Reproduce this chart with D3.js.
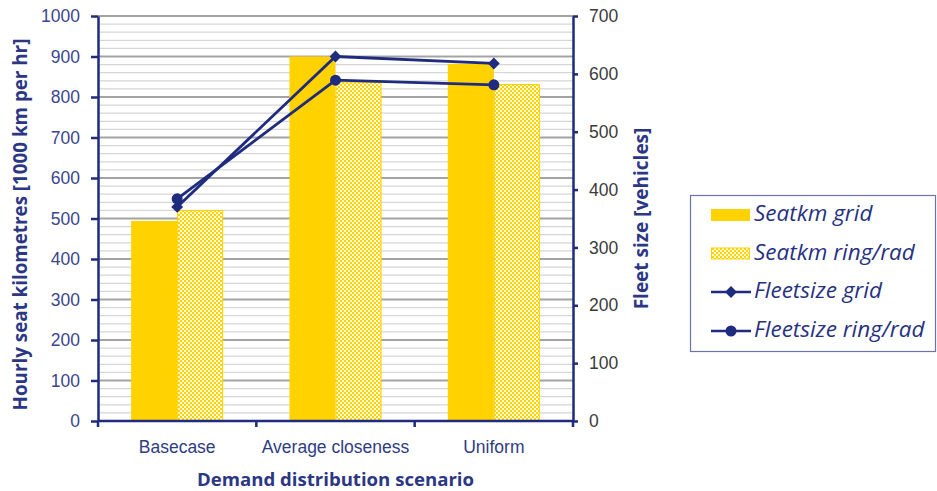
<!DOCTYPE html>
<html>
<head>
<meta charset="utf-8">
<script src="https://cdn.jsdelivr.net/npm/d3@7"></script>
<style>
  html, body { margin: 0; padding: 0; background: #fff; }
  svg { display: block; font-family: "Open Sans", Lato, sans-serif; }
</style>
</head>
<body>
<svg id="chart" width="937" height="491"></svg>
<script>
// Scenario categories and series values
const categories = ["Basecase", "Average closeness", "Uniform"];
const seatkmGrid = [494, 900, 882];
const seatkmRing = [521, 838, 832];
const fleetGrid = [370, 630, 618];
const fleetRing = [384, 589, 581];
const leftTicks = [0, 100, 200, 300, 400, 500, 600, 700, 800, 900, 1000];
const rightTicks = [0, 100, 200, 300, 400, 500, 600, 700];
const barSeries = ["Seatkm grid", "Seatkm ring/rad"];
const lineSeries = ["Fleetsize grid", "Fleetsize ring/rad"];

const NAVY = "#1f2b7e";
const GOLD = "#ffd200";

const svg = d3.select("#chart");
const plot = { left: 98, right: 573, top: 16, bottom: 421 };

// Pattern for the ring/rad bars: small gold checker on white
const defs = svg.append("defs");
const pat = defs.append("pattern")
  .attr("id", "checker").attr("patternUnits", "userSpaceOnUse")
  .attr("width", 4).attr("height", 4);
pat.append("rect").attr("width", 4).attr("height", 4).attr("fill", "#fffbe0");
pat.append("rect").attr("width", 2).attr("height", 2).attr("fill", GOLD);
pat.append("rect").attr("x", 2).attr("y", 2).attr("width", 2).attr("height", 2).attr("fill", GOLD);

// Scales
const x0 = d3.scaleBand().domain(categories).range([plot.left, plot.right]).padding(0);
const x1 = d3.scaleBand().domain(barSeries).range([0, x0.bandwidth()])
  .paddingInner(0).paddingOuter(0.72);
const yL = d3.scaleLinear().domain([0, 1000]).range([plot.bottom, plot.top]);
const yR = d3.scaleLinear().domain([0, 700]).range([plot.bottom, plot.top]);

// Gridlines: minor every 20, major every 100
const minor = d3.range(0, 1001, 20).filter(v => v % 100 !== 0);
svg.append("g").selectAll("line").data(minor).join("line")
  .attr("x1", plot.left).attr("x2", plot.right)
  .attr("y1", d => yL(d)).attr("y2", d => yL(d))
  .attr("stroke", "#d6d6d6").attr("stroke-width", 1.3);
svg.append("g").selectAll("line").data(leftTicks.filter(v => v > 0)).join("line")
  .attr("x1", plot.left).attr("x2", plot.right)
  .attr("y1", d => yL(d)).attr("y2", d => yL(d))
  .attr("stroke", "#a3a3a3").attr("stroke-width", 1.8);

// Bars
const bars = svg.append("g");
categories.forEach((c, i) => {
  bars.append("rect")
    .attr("x", x0(c) + x1(barSeries[0])).attr("width", x1.bandwidth())
    .attr("y", yL(seatkmGrid[i])).attr("height", yL(0) - yL(seatkmGrid[i]))
    .attr("fill", GOLD);
  bars.append("rect")
    .attr("x", x0(c) + x1(barSeries[1]) + 0.5).attr("width", x1.bandwidth() - 1)
    .attr("y", yL(seatkmRing[i]) + 0.5).attr("height", yL(0) - yL(seatkmRing[i]) - 0.5)
    .attr("fill", "url(#checker)").attr("stroke", GOLD).attr("stroke-width", 1);
});

// Axes
const axisStyle = g => {
  g.select(".domain").attr("stroke", NAVY).attr("stroke-width", 2.5);
  g.selectAll(".tick line").attr("stroke", NAVY).attr("stroke-width", 2.5);
};
const gL = svg.append("g").attr("transform", `translate(${plot.left},0)`)
  .call(d3.axisLeft(yL).tickValues(leftTicks).tickFormat(d3.format("d"))
    .tickSize(7).tickSizeOuter(0).tickPadding(11))
  .call(axisStyle);
gL.selectAll(".tick text").attr("fill", "#3a4690").attr("font-size", 17.5);

const gR = svg.append("g").attr("transform", `translate(${plot.right},0)`)
  .call(d3.axisRight(yR).tickValues(rightTicks).tickFormat(d3.format("d"))
    .tickSize(5).tickSizeOuter(0).tickPadding(11))
  .call(axisStyle);
gR.selectAll(".tick text").attr("fill", "#3b3b3b").attr("font-size", 17.5);

const gB = svg.append("g").attr("transform", `translate(0,${plot.bottom})`)
  .call(d3.axisBottom(x0).tickSize(0).tickPadding(20))
  .call(axisStyle);
gB.select(".domain").attr("d", `M${plot.left},0H${plot.right}`);
gB.selectAll(".tick text").attr("fill", "#2f3c84").attr("font-size", 17.5);
// category boundary ticks
const bounds = categories.map(c => x0(c)).concat([x0(categories[categories.length - 1]) + x0.step()]);
gB.selectAll("line.bound").data(bounds).join("line").attr("class", "bound")
  .attr("x1", d => d).attr("x2", d => d).attr("y1", 0).attr("y2", 6)
  .attr("stroke", NAVY).attr("stroke-width", 2.5);

// Lines on the secondary axis
const cx = c => x0(c) + x0.bandwidth() / 2;
const line = d3.line().x(d => cx(d.c)).y(d => yR(d.v));
const gridPts = categories.map((c, i) => ({ c, v: fleetGrid[i] }));
const ringPts = categories.map((c, i) => ({ c, v: fleetRing[i] }));
svg.append("path").datum(gridPts).attr("d", line)
  .attr("fill", "none").attr("stroke", NAVY).attr("stroke-width", 2.8);
svg.append("path").datum(ringPts).attr("d", line)
  .attr("fill", "none").attr("stroke", NAVY).attr("stroke-width", 2.8);
const diamond = d3.symbol().type(d3.symbolDiamond2).size(90);
const circle = d3.symbol().type(d3.symbolCircle).size(95);
svg.append("g").selectAll("path").data(gridPts).join("path")
  .attr("d", diamond).attr("transform", d => `translate(${cx(d.c)},${yR(d.v)})`)
  .attr("fill", NAVY);
svg.append("g").selectAll("path").data(ringPts).join("path")
  .attr("d", circle).attr("transform", d => `translate(${cx(d.c)},${yR(d.v)})`)
  .attr("fill", NAVY);

// Axis titles
svg.append("text")
  .attr("transform", `translate(22,${(plot.top + plot.bottom) / 2 + 6}) rotate(-90)`)
  .attr("text-anchor", "middle").attr("dominant-baseline", "middle")
  .attr("font-weight", "bold").attr("font-size", 18.8).attr("fill", "#2b3785")
  .text("Hourly seat kilometres [1000 km per hr]");
svg.append("text")
  .attr("transform", `translate(643,${(plot.top + plot.bottom) / 2 + 0}) rotate(-90)`)
  .attr("text-anchor", "middle").attr("dominant-baseline", "middle")
  .attr("font-weight", "bold").attr("font-size", 19).attr("fill", "#2b3785")
  .text("Fleet size [vehicles]");
svg.append("text")
  .attr("x", (plot.left + plot.right) / 2).attr("y", 486)
  .attr("text-anchor", "middle")
  .attr("font-weight", "bold").attr("font-size", 18.6).attr("fill", "#2b3785")
  .text("Demand distribution scenario");

// Legend
const lg = svg.append("g");
lg.append("rect").attr("x", 690.5).attr("y", 195.5).attr("width", 245).attr("height", 156)
  .attr("fill", "#fff").attr("stroke", "#6c72aa").attr("stroke-width", 1.2);
const rowY = [215, 253.5, 292, 331];
const legendItems = barSeries.concat(lineSeries);
legendItems.forEach((name, i) => {
  const y = rowY[i];
  if (i === 0) {
    lg.append("rect").attr("x", 711).attr("y", y - 6).attr("width", 39).attr("height", 12).attr("fill", GOLD);
  } else if (i === 1) {
    lg.append("rect").attr("x", 711.5).attr("y", y - 5.5).attr("width", 38).attr("height", 11)
      .attr("fill", "url(#checker)").attr("stroke", GOLD);
  } else {
    lg.append("line").attr("x1", 711).attr("x2", 751).attr("y1", y).attr("y2", y)
      .attr("stroke", NAVY).attr("stroke-width", 2.6);
    lg.append("path").attr("d", i === 2 ? diamond : circle)
      .attr("transform", `translate(731,${y})`).attr("fill", NAVY);
  }
  lg.append("text").attr("x", 754).attr("y", y).attr("dominant-baseline", "middle")
    .attr("font-style", "italic").attr("font-size", 22.5).attr("fill", "#26327f")
    .text(name);
});
</script>
</body>
</html>
